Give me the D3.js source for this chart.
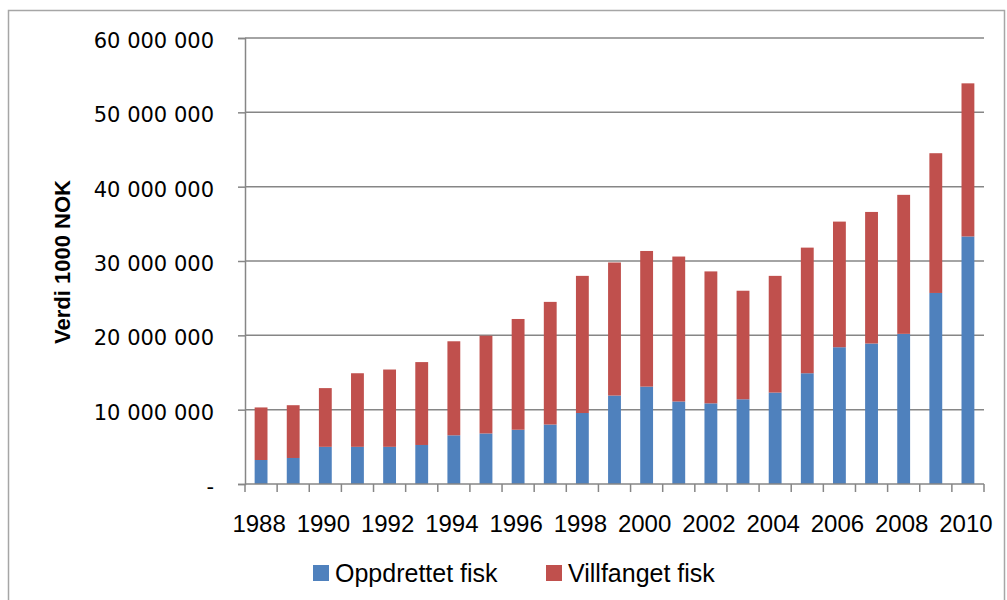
<!DOCTYPE html>
<html>
<head>
<meta charset="utf-8">
<script src="https://cdn.jsdelivr.net/npm/d3@7"></script>
<style>
  body { margin: 0; background: #fff; }
</style>
</head>
<body>
<div id="chart"></div>
<script>
// Årstall og verdier (1000 NOK), lest av figuren
var years = [1988, 1989, 1990, 1991, 1992, 1993, 1994, 1995, 1996, 1997, 1998, 1999,
             2000, 2001, 2002, 2003, 2004, 2005, 2006, 2007, 2008, 2009, 2010];
var oppdrettet = [3230000, 3500000, 5000000, 5000000, 5000000, 5250000, 6550000, 6800000,
                  7300000, 8000000, 9550000, 11900000, 13100000, 11100000, 10850000, 11400000,
                  12300000, 14900000, 18400000, 18900000, 20200000, 25700000, 33300000];
var villfanget = [7070000, 7100000, 7900000, 9900000, 10400000, 11150000, 12650000, 13150000,
                  14900000, 16500000, 18450000, 17900000, 18250000, 19500000, 17750000, 14600000,
                  15700000, 16900000, 16900000, 17700000, 18700000, 18800000, 20600000];
var yTicks = [0, 10000000, 20000000, 30000000, 40000000, 50000000, 60000000];
var seriesNames = ["Oppdrettet fisk", "Villfanget fisk"];
var colors = ["#4F81BD", "#C0504D"];

var W = 1007, H = 600;
var margin = { top: 38, right: 23, bottom: 116, left: 245 };
var width = W - margin.left - margin.right,
    height = H - margin.top - margin.bottom;

var svg = d3.select("#chart").append("svg")
  .attr("width", W).attr("height", H);

// ramme rundt diagrammet
svg.append("rect")
  .attr("x", 8.5).attr("y", 10.5)
  .attr("width", 996).attr("height", 620)
  .attr("fill", "none").attr("stroke", "#a6a6a6").attr("stroke-width", 1.5);

var g = svg.append("g")
  .attr("transform", "translate(" + margin.left + "," + margin.top + ")");

var x = d3.scaleBand()
  .domain(years)
  .range([0, width])
  .paddingInner(0.6)
  .paddingOuter(0.3);

var y = d3.scaleLinear()
  .domain([0, 60000000])
  .range([height, 0]);

// rutenett
g.selectAll(".grid")
  .data(yTicks.slice(1))
  .enter().append("line")
  .attr("class", "grid")
  .attr("x1", 0).attr("x2", width)
  .attr("y1", function(d) { return y(d); })
  .attr("y2", function(d) { return y(d); })
  .attr("stroke", "#868686").attr("stroke-width", 1.5);

// stablede søyler
var rows = years.map(function(yr, i) {
  return { year: yr, "Oppdrettet fisk": oppdrettet[i], "Villfanget fisk": villfanget[i] };
});
var stack = d3.stack().keys(seriesNames)(rows);

g.selectAll(".serie")
  .data(stack)
  .enter().append("g")
  .attr("fill", function(d, i) { return colors[i]; })
  .selectAll("rect")
  .data(function(d) { return d; })
  .enter().append("rect")
  .attr("x", function(d) { return x(d.data.year); })
  .attr("y", function(d) { return y(d[1]); })
  .attr("width", x.bandwidth())
  .attr("height", function(d) { return y(d[0]) - y(d[1]); });

// y-akse
var fmt = function(d) {
  if (d === 0) return "-";
  return d3.format(",")(d).replace(/,/g, " ");
};
var yAxis = g.append("g")
  .call(d3.axisLeft(y).tickValues(yTicks).tickSize(7).tickPadding(24).tickFormat(fmt));
yAxis.select(".domain").attr("stroke", "#868686").attr("stroke-width", 1.5);
yAxis.selectAll(".tick line").attr("stroke", "#868686").attr("stroke-width", 1.5);
yAxis.selectAll(".tick text")
  .attr("font-family", "DejaVu Sans, Verdana, sans-serif")
  .attr("font-size", "21px")
  .attr("fill", "#000")
  .attr("dy", "0.45em");

// x-akse
var step = x.step();
g.append("line")
  .attr("x1", 0).attr("x2", width)
  .attr("y1", height).attr("y2", height)
  .attr("stroke", "#868686").attr("stroke-width", 1.5);
g.selectAll(".xtick")
  .data(d3.range(years.length + 1))
  .enter().append("line")
  .attr("class", "xtick")
  .attr("x1", function(i) { return i * step; })
  .attr("x2", function(i) { return i * step; })
  .attr("y1", height).attr("y2", height + 8)
  .attr("stroke", "#868686").attr("stroke-width", 1.5);

g.selectAll(".xlabel")
  .data(years.filter(function(d) { return d % 2 === 0; }))
  .enter().append("text")
  .attr("class", "xlabel")
  .attr("x", function(d) { return x(d) + x.bandwidth() / 2 - 2; })
  .attr("y", height + 48)
  .attr("text-anchor", "middle")
  .attr("font-family", "Liberation Sans, Arial, sans-serif")
  .attr("font-size", "24px")
  .attr("fill", "#000")
  .text(function(d) { return d; });

// y-aksetittel
svg.append("text")
  .attr("transform", "translate(70," + 262 + ")rotate(-90)")
  .attr("text-anchor", "middle")
  .attr("font-family", "Liberation Sans, Arial, sans-serif")
  .attr("font-weight", "bold")
  .attr("font-size", "22px")
  .attr("fill", "#000")
  .text("Verdi 1000 NOK");

// tegnforklaring
var legendX = [313, 546];
var legend = svg.selectAll(".legend")
  .data(seriesNames)
  .enter().append("g")
  .attr("transform", function(d, i) { return "translate(" + legendX[i] + ",565)"; });
legend.append("rect")
  .attr("width", 16).attr("height", 16)
  .attr("fill", function(d, i) { return colors[i]; });
legend.append("text")
  .attr("x", 22).attr("y", 17)
  .attr("font-family", "Liberation Sans, Arial, sans-serif")
  .attr("font-size", "25px")
  .attr("fill", "#000")
  .text(function(d) { return d; });
</script>
</body>
</html>
